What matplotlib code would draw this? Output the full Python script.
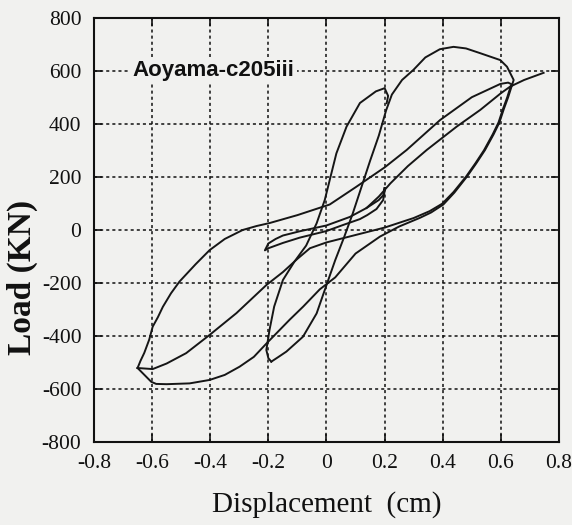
import matplotlib
matplotlib.use("Agg")
import matplotlib.pyplot as plt

# Load-displacement record, split into branches (displacement cm, load kN)
lens_x = [0.207, 0.212, 0.2, 0.17, 0.115, 0.069, 0.034, 0.011, -0.006, -0.034,
          -0.07, -0.11, -0.15, -0.18, -0.196, -0.207, -0.2, -0.19]
lens_y = [477, 505, 534, 522, 478, 389, 288, 187, 112, 24,
          -60, -120, -190, -290, -378, -454, -485, -498]

reload1_x = [-0.19, -0.165, -0.138, -0.081, -0.034, 0.006, 0.03, 0.06, 0.09, 0.12,
             0.15, 0.18, 0.205, 0.225, 0.26, 0.299, 0.34, 0.39, 0.437, 0.48,
             0.529, 0.598, 0.621, 0.644, 0.638]
reload1_y = [-498, -480, -460, -404, -316, -190, -115, -30, 60, 160,
             260, 355, 450, 510, 565, 603, 650, 681, 690, 684,
             666, 640, 615, 565, 545]

unload1_x = [0.638, 0.625, 0.61, 0.595, 0.575, 0.545, 0.515, 0.483, 0.44, 0.402,
             0.36, 0.322, 0.25, 0.184, 0.1, 0.03, -0.023, -0.08, -0.127, -0.207,
             -0.25, -0.299, -0.35, -0.402, -0.471, -0.55, -0.586, -0.603, -0.65]
unload1_y = [545, 500, 455, 405, 360, 300, 250, 200, 140, 95,
             65, 45, 12, -26, -90, -180, -225, -290, -340, -430,
             -480, -517, -548, -567, -580, -583, -582, -574, -522]

reverse_x = [-0.65, -0.64, -0.627, -0.61, -0.598, -0.58, -0.563, -0.535, -0.506, -0.45,
             -0.402, -0.35, -0.288, -0.24, -0.196, -0.1, 0.011, 0.1, 0.2, 0.276,
             0.391, 0.5, 0.598, 0.625, 0.638]
reverse_y = [-522, -495, -465, -415, -366, -330, -291, -240, -196, -130,
             -77, -35, -1, 14, 25, 55, 95, 160, 235, 301,
             414, 500, 550, 555, 548]

unload2_x = [0.634, 0.622, 0.607, 0.592, 0.572, 0.542, 0.512, 0.48, 0.437, 0.398,
             0.355, 0.3, 0.2, 0.1, 0.0, -0.057, -0.1, -0.15, -0.207, -0.31,
             -0.402, -0.483, -0.55, -0.598, -0.65]
unload2_y = [542, 500, 455, 405, 360, 300, 250, 200, 142, 98,
             70, 44, 8, -20, -48, -70, -110, -160, -209, -315,
             -397, -466, -505, -526, -522]

small_x = [0.2, 0.2, 0.195, 0.172, 0.14, 0.115, 0.05, 0.0, -0.092, -0.15,
           -0.2, -0.212, -0.2, -0.175, -0.15, -0.092, 0.0, 0.08, 0.138, 0.18,
           0.195, 0.2]
small_y = [157, 145, 112, 78, 55, 40, 15, -5, -30, -50,
           -70, -78, -52, -35, -22, -6, 16, 48, 82, 112,
           130, 157]

final_x = [0.138, 0.18, 0.22, 0.28, 0.345, 0.448, 0.529, 0.6, 0.632, 0.68, 0.747]
final_y = [82, 125, 175, 240, 301, 389, 452, 515, 540, 565, 592]

branches = [(lens_x, lens_y), (reload1_x, reload1_y), (unload1_x, unload1_y),
            (reverse_x, reverse_y), (unload2_x, unload2_y), (small_x, small_y),
            (final_x, final_y)]

x_ticks = [-0.8, -0.6, -0.4, -0.2, 0, 0.2, 0.4, 0.6, 0.8]
x_labels = ["-0.8", "-0.6", "-0.4", "-0.2", "0", "0.2", "0.4", "0.6", "0.8"]
y_ticks = [-800, -600, -400, -200, 0, 200, 400, 600, 800]
y_labels = ["-800", "-600", "-400", "-200", "0", "200", "400", "600", "800"]

bg = "#f1f1ef"
plt.rcParams["font.family"] = ["Liberation Serif", "DejaVu Serif"]

fig = plt.figure(figsize=(5.72, 5.25), dpi=100, facecolor=bg)
ax = fig.add_axes([0.1643, 0.1587, 0.8130, 0.8076], facecolor=bg)

for bx, by in branches:
    ax.plot(bx, by, color="#161616", lw=1.4, solid_joinstyle="round", zorder=3)

ax.set_xlim(-0.8, 0.8)
ax.set_ylim(-800, 800)
ax.set_xticks(x_ticks)
ax.set_xticklabels(x_labels)
ax.set_yticks(y_ticks)
ax.set_yticklabels(y_labels)
ax.tick_params(direction="in", length=6, width=1.2, top=True, right=True,
               labelsize=15.5, colors="#111111")
ax.tick_params(axis="x", pad=9)
ax.tick_params(axis="y", pad=9)
ax.grid(True, color="#111111", lw=1.1, linestyle=(0, (2, 2)))
ax.set_axisbelow(True)
for side in ax.spines.values():
    side.set_linewidth(1.5)
    side.set_color("#111111")

ax.text(-0.668, 600, "Aoyama-c205iii", family=["Liberation Sans", "DejaVu Sans"],
        fontsize=16, fontweight="bold", ha="left", va="center", color="#111111",
        bbox=dict(facecolor=bg, edgecolor="none", pad=2), zorder=4)

fig.text(326.5 / 572, 1 - 505 / 525, "Displacement  (cm)", fontsize=21,
         ha="center", va="center", color="#111111")
fig.text(22 / 572, 1 - 277 / 525, "Load (KN)", fontsize=24, fontweight="bold",
         rotation=90, ha="center", va="center", color="#111111")

fig.savefig("out.png", dpi=100, facecolor=bg)
